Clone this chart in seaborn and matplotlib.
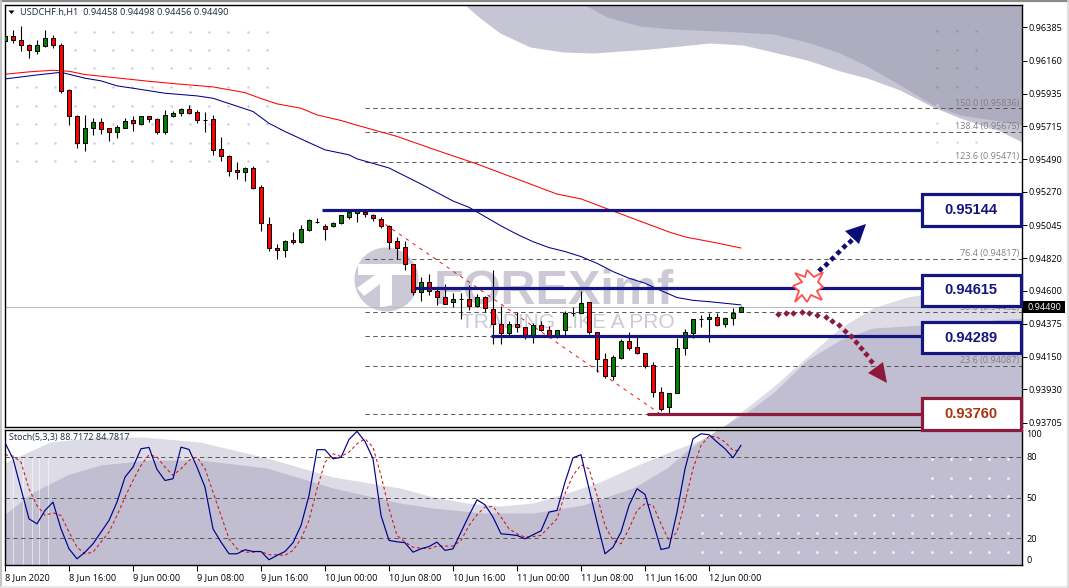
import numpy as np
import pandas as pd
import matplotlib
matplotlib.use("Agg")
import matplotlib.pyplot as plt
from matplotlib.patches import Circle, Polygon, Rectangle
import seaborn as sns

# hourly USDCHF bars, in 1/100000 of a price unit
open_pts = [96292, 96328, 96298, 96265, 96228, 96262, 96312, 96265, 95959, 95783,
            95600, 95706, 95744, 95702, 95679, 95706, 95758, 95729, 95783, 95763,
            95679, 95787, 95808, 95830, 95810, 95760, 95763, 95559, 95514, 95417,
            95403, 95430, 95301, 95050, 94888, 94874, 94942, 94928, 95014, 95068,
            95037, 95041, 95062, 95102, 95125, 95136, 95113, 95088, 95039, 94935,
            94894, 94779, 94589, 94657, 94598, 94555, 94521, 94546, 94541, 94498,
            94555, 94473, 94372, 94315, 94372, 94351, 94293, 94365, 94331, 94302,
            94331, 94446, 94446, 94521, 94317, 94134, 94019, 94141, 94256, 94216,
            94175, 94094, 93910, 93809, 93904, 94209, 94315, 94408, 94406, 94419,
            94376, 94412, 94458]
high_pts = [96346, 96369, 96396, 96274, 96301, 96369, 96335, 96283, 95966, 95790,
            95792, 95774, 95774, 95706, 95724, 95774, 95785, 95783, 95785, 95774,
            95824, 95817, 95842, 95860, 95824, 95810, 95790, 95643, 95523, 95471,
            95441, 95446, 95317, 95100, 94915, 94944, 94996, 95046, 95084, 95091,
            95055, 95066, 95116, 95143, 95147, 95147, 95120, 95102, 95045, 94962,
            94937, 94779, 94690, 94713, 94609, 94645, 94582, 94586, 94638, 94577,
            94564, 94740, 94496, 94397, 94453, 94356, 94383, 94394, 94363, 94333,
            94460, 94487, 94600, 94525, 94317, 94175, 94164, 94270, 94317, 94299,
            94175, 94114, 93944, 93904, 94281, 94338, 94406, 94435, 94446, 94446,
            94424, 94480, 94498]
low_pts = [96292, 96278, 96228, 96181, 96206, 96255, 96249, 95943, 95724, 95570,
           95550, 95659, 95663, 95616, 95638, 95706, 95686, 95724, 95744, 95663,
           95663, 95781, 95785, 95799, 95740, 95679, 95523, 95480, 95378, 95358,
           95344, 95292, 95005, 94872, 94817, 94831, 94919, 94921, 95007, 95062,
           94944, 95030, 95055, 95089, 95068, 95097, 95075, 95027, 94883, 94813,
           94740, 94571, 94530, 94571, 94503, 94510, 94487, 94408, 94469, 94491,
           94453, 94238, 94238, 94297, 94320, 94274, 94243, 94326, 94293, 94277,
           94293, 94428, 94446, 94306, 94051, 94010, 93994, 94139, 94198, 94168,
           94078, 93876, 93784, 93754, 93904, 94164, 94277, 94356, 94254, 94360,
           94356, 94367, 94456]
close_pts = [96330, 96298, 96265, 96231, 96265, 96312, 96265, 95957, 95783, 95600,
             95702, 95744, 95699, 95679, 95711, 95749, 95740, 95783, 95767, 95679,
             95790, 95806, 95830, 95808, 95756, 95760, 95557, 95512, 95414, 95403,
             95430, 95299, 95057, 94888, 94874, 94935, 94928, 95016, 95077, 95068,
             95021, 95057, 95111, 95132, 95140, 95118, 95091, 95036, 94932, 94892,
             94779, 94589, 94657, 94598, 94555, 94512, 94543, 94546, 94498, 94555,
             94485, 94372, 94315, 94372, 94356, 94288, 94365, 94331, 94302, 94331,
             94451, 94446, 94519, 94320, 94134, 94019, 94148, 94256, 94213, 94179,
             94091, 93910, 93800, 93904, 94209, 94317, 94406, 94408, 94419, 94369,
             94412, 94451, 94490]

# moving averages, read at the bars listed
fast_ma_bars = [0, 4, 7, 10, 12, 14, 16, 20, 24, 26, 28, 31, 33, 35, 38, 40, 43, 44,
                48, 52, 56, 58, 60, 62, 64, 66, 68, 70, 72, 74, 76, 78, 80, 82, 84, 86, 88, 90, 92]
fast_ma_pts = [96036, 96063, 96081, 96041, 96023, 95989, 95973, 95939, 95921, 95905,
               95869, 95815, 95735, 95679, 95604, 95555, 95521, 95494, 95432, 95323,
               95208, 95165, 95102, 95039, 94982, 94932, 94892, 94865, 94831, 94785,
               94729, 94684, 94650, 94600, 94553, 94534, 94525, 94514, 94503]
slow_ma_bars = [0, 3, 6, 8, 10, 14, 18, 22, 26, 30, 32, 34, 37, 39, 42, 44, 49, 54, 59,
                64, 69, 72, 76, 79, 83, 85, 89, 92]
slow_ma_pts = [96068, 96084, 96095, 96088, 96066, 96043, 96020, 96000, 95982, 95943,
               95903, 95867, 95837, 95792, 95754, 95722, 95646, 95551, 95459, 95357,
               95255, 95222, 95140, 95079, 94998, 94964, 94923, 94889]

stoch_main = [90.6, 78.7, 56.5, 34.2, 30.5, 40.4, 46.6, 26.8, 12.0, 4.6,
              9.5, 15.7, 24.4, 33.0, 46.6, 65.1, 72.5, 86.1, 87.1, 70.8,
              62.6, 63.9, 87.3, 85.6, 72.5, 57.7, 26.8, 17.0, 8.3, 8.3,
              11.3, 10.0, 10.0, 3.9, 7.1, 10.0, 16.5, 29.3, 51.5, 85.4,
              85.4, 78.7, 79.7, 93.0, 99.0, 91.5, 78.7, 36.7, 18.2, 17.2,
              16.5, 9.5, 12.0, 13.7, 17.0, 10.8, 12.0, 24.4, 36.7, 48.3,
              44.6, 35.5, 23.1, 22.6, 21.9, 19.4, 22.4, 25.3, 39.2, 40.4,
              61.4, 79.4, 81.7, 56.5, 31.8, 8.3, 13.2, 24.4, 44.1, 56.5,
              52.3, 31.8, 11.5, 12.8, 39.2, 71.3, 93.5, 97.2, 96.5, 91.1,
              86.1, 79.4, 88.7]
stoch_signal = [81.7, 80.7, 76.2, 56.5, 44.1, 36.7, 38.7, 36.7, 24.4, 13.2,
                8.3, 9.5, 17.0, 24.4, 36.7, 50.3, 62.6, 73.8, 81.7, 80.0,
                72.5, 66.4, 71.3, 77.5, 80.0, 71.3, 54.0, 36.7, 19.4, 12.0,
                9.5, 9.5, 10.0, 7.6, 7.6, 7.1, 10.8, 19.4, 33.0, 56.5,
                76.2, 82.4, 80.4, 83.6, 89.8, 93.5, 87.3, 66.4, 41.7, 21.9,
                17.0, 13.2, 12.5, 12.0, 14.0, 14.0, 14.0, 18.2, 29.3, 37.2,
                42.9, 43.4, 35.5, 26.8, 23.1, 20.7, 21.1, 21.9, 28.1, 34.2,
                52.8, 66.4, 74.3, 71.3, 51.5, 29.3, 18.2, 15.7, 26.8, 40.4,
                45.4, 44.1, 30.5, 18.2, 24.4, 46.6, 71.3, 88.6, 95.5, 94.8,
                91.1, 84.9, 84.8]

price_ticks = [0.96385, 0.96160, 0.95935, 0.95715, 0.95490, 0.95270, 0.95045,
               0.94820, 0.94600, 0.94375, 0.94150, 0.93930, 0.93705]
time_ticks = [0, 8, 16, 24, 32, 40, 48, 56, 64, 72, 80, 88]
time_labels = ["8 Jun 2020", "8 Jun 16:00", "9 Jun 00:00", "9 Jun 08:00", "9 Jun 16:00",
               "10 Jun 00:00", "10 Jun 08:00", "10 Jun 16:00", "11 Jun 00:00",
               "11 Jun 08:00", "11 Jun 16:00", "12 Jun 00:00"]

fib_names = ["150.0", "138.4", "123.6", "76.4", "50.0", "23.6"]
fib_prices = [0.95836, 0.95675, 0.95471, 0.94817, 0.94452, 0.94087]
fib_hidden = [0.94289, 0.93761]
level_prices = [0.95144, 0.94615, 0.94289, 0.93760]
level_labels = ["0.95144", "0.94615", "0.94289", "0.93760"]
level_start_bars = [39.6, 51.1, 60.8, 80.2]
last_price = 0.94490
trend_bars = [45, 82]
trend_prices = [0.95144, 0.93760]

NAVY = "#15157f"
CRIMSON = "#8c1a3c"
LABEL_FONT = "Open Sans"

W, H = 1069, 588
sns.set_theme(style="white")
plt.rcParams["font.family"] = [LABEL_FONT, "DejaVu Sans"]
fig = plt.figure(figsize=(W / 100, H / 100), dpi=100, facecolor="white")


def px_axes(left, top, right, bottom, **kw):
    return fig.add_axes([left / W, 1 - bottom / H, (right - left) / W, (bottom - top) / H], **kw)


# --- background layer in pixels: watermark swooshes, dots, logo ---
bg = px_axes(0, 0, W, H, zorder=0)
bg.set_xlim(0, W)
bg.set_ylim(H, 0)
bg.axis("off")

top_light = [(465, 5), (480, 18), (500, 33), (530, 47), (563, 52), (593, 53), (650, 49), (710, 43),
             (743, 45), (773, 52), (807, 60), (840, 71), (867, 78), (900, 90), (933, 107),
             (960, 118), (1000, 131), (1022, 142)]
top_dark = [(585, 5), (607, 17), (640, 26), (673, 29), (740, 32), (773, 34), (807, 42), (840, 53),
            (867, 66), (900, 85), (933, 105), (960, 115), (1000, 121), (1022, 125)]
low_light = [(4, 463), (50, 442), (100, 437), (143, 437), (200, 442), (267, 458), (333, 477),
             (400, 488), (433, 497), (467, 503), (500, 506), (533, 503), (567, 493), (600, 482),
             (633, 467), (667, 453), (700, 440), (720, 430), (740, 413), (773, 387), (807, 357),
             (840, 328), (873, 308), (907, 297), (920, 295), (1022, 280)]
low_dark = [(4, 515), (33, 492), (67, 475), (100, 465), (150, 460), (200, 460), (267, 468), (333, 488),
            (400, 503), (433, 508), (483, 513), (533, 513), (583, 505), (633, 488), (667, 468),
            (690, 448), (717, 430), (747, 412), (773, 393), (807, 360), (840, 340), (873, 328),
            (907, 326), (1022, 318)]
for edge, end, col in [(top_light, 4, "#c6c5d4"), (top_dark, 4, "#aeacbf"),
                       (low_light, 566, "#dddce6"), (low_dark, 566, "#c0bed0")]:
    xs, ys = zip(*edge)
    bg.fill_between(xs, ys, end, color=col, lw=0)

# white streaks at the left of the lower panel
for x in [13, 23, 32, 39, 48]:
    bg.plot([x, x], [457, 565], color="white", lw=0.8, alpha=0.55)

# dot grids
left_x = [17, 36, 55, 75, 94, 113, 132, 152, 171, 190, 209, 228, 248, 267]
left_y = [32, 50, 68, 87, 106, 124, 143, 161]
for row, y in enumerate(left_y):
    row_x = left_x[3:] if row < 3 else left_x
    bg.scatter(row_x, [y] * len(row_x), s=3, color="#c9c9da", lw=0)
corner_x = [937, 957, 976]
bg.scatter(corner_x * 4, [31] * 3 + [50] * 3 + [68] * 3 + [87] * 3, s=3, color="#97959f", lw=0)
bg.scatter([937, 937, 937, 957, 976, 937], [105, 123, 142, 142, 142, 161], s=3, color="#d6d5df", lw=0)
lower_x = [702, 721, 740, 759, 778, 798, 817, 836, 855, 874, 893, 912, 932, 951, 970, 989, 1008]
for y in [515, 533, 552]:
    bg.scatter(lower_x, [y] * len(lower_x), s=4, color="#f2f2f6", lw=0)
for y in [459, 478, 496]:
    bg.scatter(lower_x[-5:], [y] * 5, s=4, color="#f2f2f6", lw=0)

# logo
logo_col = "#cac9d5"
bg.add_patch(Circle((386.5, 279.5), 32, color=logo_col, lw=0))
bg.add_patch(Polygon([(358, 264), (411, 264), (411, 275), (392, 275), (392, 305), (380, 308), (380, 284),
                      (364, 296), (357, 288), (375, 275), (358, 275)], color="white", lw=0))
bg.text(434, 303.5, "FOREXimf", fontsize=35, fontweight="bold", color=logo_col,
        family="Liberation Sans", ha="left", va="baseline")
bg.text(461, 328, "TRADING LIKE A PRO", fontsize=15, color=logo_col,
        family="Liberation Sans", ha="left", va="baseline")

# mask everything outside the two panels
for r in [(1021.5, 0, 50, H), (0, 565, W, 25), (0, 427, 1022, 3), (0, 0, W, 4.5), (0, 0, 4.5, H)]:
    bg.add_patch(Rectangle(r[:2], r[2], r[3], color="white", lw=0, zorder=3))
# window edge of the screenshot
bg.plot([0, W], [0.8, 0.8], color="#8a8a8a", lw=1.6, zorder=4)
bg.plot([0.6, 0.6], [0, H], color="#c4c4c4", lw=1.4, zorder=4)
bg.plot([0, W], [586.5, 586.5], color="#e4e4e4", lw=1.2, zorder=4)
bg.plot([1067.5, 1067.5], [0, H], color="#d8d8d8", lw=1.2, zorder=4)

# --- price panel ---
ax = px_axes(4.5, 4.5, 1021.5, 427, zorder=1, facecolor="none")
bars = np.arange(len(open_pts))
opens, highs = np.array(open_pts) / 1e5, np.array(high_pts) / 1e5
lows, closes = np.array(low_pts) / 1e5, np.array(close_pts) / 1e5

ax.axhline(last_price, color="#bdbdbd", lw=0.8, zorder=1)
for p in fib_prices + fib_hidden:
    ax.plot([45, 127.1], [p, p], color="#555555", lw=0.7, ls=(0, (4.5, 3.5)), zorder=1)
for name, p in zip(fib_names, fib_prices):
    ax.text(126.75, p + 0.00006, f"{name} ({p:.5f})", ha="right", va="bottom", fontsize=6.5,
            color="#808080")
ax.plot(trend_bars, trend_prices, color="#ee1111", lw=0.7, ls=(0, (3.5, 5)), zorder=1)

sns.lineplot(data=pd.DataFrame({"bar": slow_ma_bars, "ma": np.array(slow_ma_pts) / 1e5}), x="bar", y="ma",
             ax=ax, color="#ff0000", lw=0.75, estimator=None, sort=False, zorder=2)
sns.lineplot(data=pd.DataFrame({"bar": fast_ma_bars, "ma": np.array(fast_ma_pts) / 1e5}), x="bar", y="ma",
             ax=ax, color="#00008b", lw=0.75, estimator=None, sort=False, zorder=2)

ax.vlines(bars, lows, highs, color="black", lw=0.8, zorder=3)
up = closes >= opens
body_cols = np.where(up, "#008000", "#ff0000")
ax.bar(bars, np.abs(closes - opens), bottom=np.minimum(opens, closes), width=0.55, color=body_cols,
       edgecolor="black", linewidth=0.7, zorder=4)

for p, start, col in zip(level_prices, level_start_bars, [NAVY, NAVY, NAVY, CRIMSON]):
    ax.plot([start, 115.0], [p, p], color=col, lw=2.3, solid_capstyle="butt", zorder=5)

ax.set_xlim(-0.0625, 127.06)
ax.set_ylim(0.936747, 0.96541)
ax.set_xlabel("")
ax.set_ylabel("")
ax.set_xticks([])
ax.yaxis.tick_right()
ax.set_yticks(price_ticks, [f"{t:.5f}" for t in price_ticks])
ax.tick_params(axis="y", length=3.5, width=0.7, pad=1.5, labelsize=6.6, labelcolor="black", color="black",
               right=True, left=False)
for s in ax.spines.values():
    s.set_color("black")
    s.set_linewidth(1)
    s.set_visible(True)

# --- stochastic panel ---
ax2 = px_axes(4.5, 430, 1021.5, 565, zorder=1, facecolor="none")
stoch = pd.DataFrame({"bar": bars, "main": stoch_main, "signal": stoch_signal})
for lvl in [80, 50, 20]:
    ax2.axhline(lvl, color="#555555", lw=0.7, ls=(0, (4.5, 3.5)), zorder=1)
sns.lineplot(data=stoch, x="bar", y="signal", ax=ax2, color="#d01515", lw=0.75, ls=(0, (3, 2.5)),
             estimator=None, sort=False, zorder=2)
sns.lineplot(data=stoch, x="bar", y="main", ax=ax2, color="#00008b", lw=0.85,
             estimator=None, sort=False, zorder=3)
ax2.set_xlim(-0.0625, 127.06)
ax2.set_ylim(0, 100)
ax2.set_xlabel("")
ax2.set_ylabel("")
ax2.yaxis.tick_right()
ax2.set_yticks([0, 20, 50, 80, 100], ["0", "20", "50", "80", "100"])
ax2.tick_params(axis="y", length=0, pad=3.5, labelsize=6.6, labelcolor="black", right=False, left=False)
ax2.set_xticks(time_ticks, time_labels, ha="left")
ax2.tick_params(axis="x", length=4, width=0.7, pad=2, labelsize=6.6, labelcolor="black", color="black", bottom=True)
labels = ax2.get_yticklabels()
labels[0].set_va("bottom")
labels[-1].set_va("top")
for s in ax2.spines.values():
    s.set_color("black")
    s.set_linewidth(1)
    s.set_visible(True)

# --- top layer in pixels: captions, level boxes, arrows, burst ---
top = px_axes(0, 0, W, H, zorder=5, facecolor="none")
top.set_xlim(0, W)
top.set_ylim(H, 0)
top.axis("off")

top.add_patch(Polygon([(8.5, 10.5), (14.5, 10.5), (11.5, 14)], color="black", lw=0))
top.text(20, 12.5, "USDCHF.h,H1  0.94458 0.94498 0.94456 0.94490", fontsize=6.7, color="#1a2a3a",
         ha="left", va="center")
top.text(9, 437.5, "Stoch(5,3,3) 88.7172 84.7817", fontsize=6.5, color="#1a2a3a", ha="left", va="center")

box_rows = [(193.5, 225.5), (274.5, 305.5), (322, 353), (397.5, 429.5)]
box_text = [NAVY, NAVY, NAVY, "#a8340f"]
box_edge = [NAVY, NAVY, NAVY, CRIMSON]
for (y0, y1), label, tc, ec in zip(box_rows, level_labels, box_text, box_edge):
    top.add_patch(Rectangle((921.5, y0), 99, y1 - y0, facecolor="white", edgecolor=ec, lw=2.3))
    top.text(971, (y0 + y1) / 2 + 0.5, label, fontsize=10.5, fontweight="bold", color=tc,
             family="Liberation Sans", ha="center", va="center")

top.add_patch(Rectangle((1023, 301), 42, 12, facecolor="black", lw=0))
top.text(1044, 307, f"{last_price:.5f}", fontsize=6.6, color="white", ha="center", va="center")

up_dots = [(820, 269), (826, 264), (832, 258), (838, 252), (844, 246), (850, 241)]
down_dots = [(778, 314), (786, 313), (793, 313), (802, 312), (809, 313), (817, 315), (826, 317), (832, 321),
             (839, 325), (845, 331), (851, 336), (856, 342), (861, 348), (866, 354), (871, 361)]
for dots, col in [(up_dots, "#0c0c78"), (down_dots, CRIMSON)]:
    xs, ys = zip(*dots)
    top.scatter(xs, ys, s=11, marker="D", color=col, lw=0)
top.add_patch(Polygon([(866, 224), (845, 231), (859, 244)], color="#0c0c78", lw=0))
top.add_patch(Polygon([(887, 383), (868, 373), (883, 362)], color=CRIMSON, lw=0))
burst = [(793, 286), (802, 282), (795, 273), (805, 277), (807, 270), (814, 277), (823, 272), (818, 282),
         (823, 287), (817, 291), (822, 300), (811, 295), (807, 302), (802, 295), (795, 302), (799, 291)]
top.add_patch(Polygon(burst, facecolor="white", edgecolor="#ff5050", lw=1.3, joinstyle="miter"))

fig.savefig("out.png", dpi=100, facecolor="white")
